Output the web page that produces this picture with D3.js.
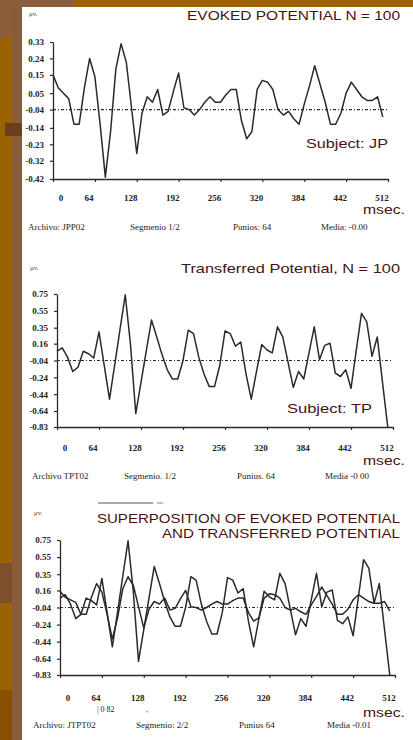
<!DOCTYPE html>
<html><head><meta charset="utf-8">
<script src="https://cdn.jsdelivr.net/npm/d3@7"></script>
<style>html,body{margin:0;padding:0;background:#fff;}svg{display:block;}</style>
</head><body>
<svg id="c" width="413" height="740"></svg>
<script>
// ---------- data ----------
const sampleMs = [0,8,16,24,32,40,48,56,64,72,80,88,96,104,112,120,128,136,144,152,160,168,176,184,192,200,208,216,224,232,240,248,256,264,272,280,288,296,304,312,320,328,336,344,352,360,368,376,384,392,400,408,416,424,432,440,448,456,464,472,480,488,496,504];
const evoked = [0.15,0.08,0.05,0.02,-0.12,-0.12,0.08,0.24,0.14,-0.12,-0.41,-0.16,0.18,0.32,0.22,-0.03,-0.28,-0.06,0.03,0.00,0.07,-0.07,-0.05,0.06,0.16,-0.03,-0.04,-0.07,-0.04,0.00,0.03,0.00,0.00,0.04,0.07,0.07,-0.10,-0.20,-0.16,0.07,0.12,0.11,0.07,-0.04,-0.07,-0.05,-0.09,-0.12,-0.01,0.09,0.20,0.10,0.00,-0.12,-0.12,-0.06,0.05,0.11,0.07,0.03,0.01,0.01,0.03,-0.08];
const transferred = [0.07,0.11,0.00,-0.17,-0.12,0.07,0.04,-0.01,0.30,-0.10,-0.50,-0.09,0.33,0.74,0.15,-0.67,-0.30,0.07,0.44,0.24,0.03,-0.15,-0.26,-0.26,-0.04,0.32,0.28,0.00,-0.20,-0.35,-0.35,-0.10,0.31,0.28,0.13,0.18,-0.20,-0.50,-0.17,0.15,0.085,0.05,0.36,0.24,-0.06,-0.36,-0.17,-0.26,0.05,0.36,-0.03,0.14,0.165,-0.19,-0.23,-0.15,-0.37,0.08,0.52,0.42,0.01,0.24,-0.30,-0.83];
const xTickValues = [0,64,128,192,256,320,384,448,512];
const xTickLabels = ["0","64","128","192","256","320","384","442","512"];
const epTicks = [0.33,0.24,0.15,0.05,-0.04,-0.14,-0.23,-0.32,-0.42];
const tpTicks = [0.75,0.55,0.35,0.16,-0.04,-0.24,-0.44,-0.64,-0.83];
const baseline = -0.04;
const titles = [["EVOKED POTENTIAL N = 100"],["Transferred Potential, N = 100"],["SUPERPOSITION OF EVOKED POTENTIAL","AND TRANSFERRED POTENTIAL"]];
const subjects = ["Subject: JP","Subject: TP",""];
const infoLines = [
  ["Archivo: JPP02","Segmenio 1/2","Punios: 64","Media: -0.00"],
  ["Archivo TPT02","Segmenio. 1/2","Punius. 64","Media -0 00"],
  ["Archivo: JTPT02","Segmenio: 2/2","Punius 64","Media -0.01"]
];

// ---------- layout ----------
const svg = d3.select("#c");
// background template
svg.append("rect").attr("x",0).attr("y",0).attr("width",413).attr("height",740).attr("fill","#fff");
svg.append("rect").attr("x",0).attr("y",0).attr("width",413).attr("height",7).attr("fill","#9a6200");
svg.append("rect").attr("x",0).attr("y",0).attr("width",22).attr("height",740).attr("fill","#9a6200");
svg.append("polygon").attr("points","0,0 75,0 72,7 22,7 22,30 0,40").attr("fill","#8c5d3b");
svg.append("rect").attr("x",12).attr("y",7).attr("width",10).attr("height",733).attr("fill","#8a5c3c");
svg.append("rect").attr("x",5).attr("y",123).attr("width",17).attr("height",13).attr("fill","#6e3e1c");
svg.append("rect").attr("x",0).attr("y",563).attr("width",12).attr("height",40).attr("fill","#7e4f2c");
svg.append("rect").attr("x",0).attr("y",690).attr("width",12).attr("height",50).attr("fill","#874f00");

const panels = [
  {x0:53,x1:388,yTop:42,yBot:179,ticks:epTicks,series:[evoked],labY:201,titleY:[20],subj:[306,148],msecY:214,infoY:230,infoX:[28,130,233,321],mu:[29,16]},
  {x0:57,x1:393,yTop:294,yBot:427,ticks:tpTicks,series:[transferred],labY:451,titleY:[273],subj:[287,413],msecY:465,infoY:479,infoX:[32,124,237,325],mu:[30,270]},
  {x0:60,x1:395,yTop:540,yBot:675,ticks:tpTicks,series:[transferred,evoked],labY:701,titleY:[523,538],subj:null,msecY:717,infoY:728,infoX:[33,136,239,327],mu:[34,515]}
];
const titleW = [[213],[219],[303,238]];
const ink = "#2a2a2a";
const maroon = "#4a1212";

panels.forEach((p,pi)=>{
  const g = svg.append("g");
  const x = d3.scaleLinear().domain([0,512]).range([p.x0,p.x1]);
  const y = d3.scaleLinear().domain([d3.min(p.ticks),d3.max(p.ticks)]).range([p.yBot,p.yTop]);

  // y axis
  const ya = g.append("g").attr("transform",`translate(${p.x0},0)`)
    .call(d3.axisLeft(y).tickValues(p.ticks).tickSize(3).tickPadding(6).tickSizeOuter(0).tickFormat(d=>d.toFixed(2)));
  ya.select(".domain").attr("stroke",ink).attr("stroke-width",1.3);
  ya.selectAll(".tick line").attr("stroke",ink).attr("stroke-width",1.2);
  ya.selectAll(".tick text").attr("fill","#222").style("font-family","'Liberation Serif','DejaVu Serif',serif").style("font-size","9px").style("font-weight","bold");

  // x axis
  const xa = g.append("g").attr("transform",`translate(0,${p.yBot})`)
    .call(d3.axisBottom(x).tickValues(xTickValues).tickSize(3).tickSizeOuter(0).tickFormat(""));
  xa.select(".domain").attr("stroke",ink).attr("stroke-width",1.3);
  xa.selectAll(".tick line").attr("stroke",ink).attr("stroke-width",1.2);
  g.selectAll(".xl").data(xTickValues).enter().append("text")
    .attr("x",(d,i)=>x(d)+(i===0?8:-6)).attr("y",p.labY).attr("text-anchor","middle")
    .attr("fill","#222").style("font-family","'Liberation Serif','DejaVu Serif',serif").style("font-size","9px").style("font-weight","bold")
    .text((d,i)=>xTickLabels[i]);

  // baseline dash-dot
  g.append("line").attr("x1",p.x0).attr("x2",p.x1).attr("y1",y(baseline)).attr("y2",y(baseline))
    .attr("stroke",ink).attr("stroke-width",1.1).attr("stroke-dasharray","3,2,1,2");

  // series
  const line = d3.line().x((d,i)=>x(sampleMs[i])).y(d=>y(d));
  p.series.forEach(s=>{
    g.append("path").datum(s).attr("d",line).attr("fill","none").attr("stroke",ink).attr("stroke-width",1.5).attr("stroke-linejoin","round");
  });

  // titles
  titles[pi].forEach((t,ti)=>{
    g.append("text").attr("x",400).attr("y",p.titleY[ti]).attr("text-anchor","end")
      .attr("fill",maroon).style("font-family","'Liberation Sans',Arial,sans-serif").style("font-size","13px")
      .attr("textLength",titleW[pi][ti]).attr("lengthAdjust","spacingAndGlyphs").text(t);
  });
  // mu label
  g.append("text").attr("x",p.mu[0]).attr("y",p.mu[1]).attr("fill","#444")
    .style("font-family","'Liberation Serif',serif").style("font-size","7px").text("μv.");
  // subject
  if(p.subj){
    g.append("text").attr("x",p.subj[0]).attr("y",p.subj[1]).attr("fill",maroon)
      .style("font-family","'Liberation Sans',Arial,sans-serif").style("font-size","13px")
      .attr("textLength",pi===0?82:85).attr("lengthAdjust","spacingAndGlyphs").text(subjects[pi]);
  }
  // msec
  g.append("text").attr("x",363).attr("y",p.msecY).attr("fill",maroon)
    .style("font-family","'Liberation Sans',Arial,sans-serif").style("font-size","12px")
    .attr("textLength",42).attr("lengthAdjust","spacingAndGlyphs").text("msec.");
  // info line
  infoLines[pi].forEach((t,ti)=>{
    g.append("text").attr("x",p.infoX[ti]).attr("y",p.infoY).attr("fill","#222")
      .style("font-family","'Liberation Serif','DejaVu Serif',serif").style("font-size","9px").text(t);
  });
});

// extra marks in superposition panel
svg.append("text").attr("x",97).attr("y",712).attr("fill","#222")
  .style("font-family","'Liberation Serif',serif").style("font-size","8px").text("|  0 82");
svg.append("text").attr("x",146).attr("y",712).attr("fill","#222")
  .style("font-family","'Liberation Serif',serif").style("font-size","8px").text(",");
svg.append("line").attr("x1",98).attr("x2",153).attr("y1",503).attr("y2",503).attr("stroke","#555").attr("stroke-width",1);
svg.append("line").attr("x1",157).attr("x2",163).attr("y1",503).attr("y2",503).attr("stroke","#888").attr("stroke-width",1);
</script>
</body></html>
